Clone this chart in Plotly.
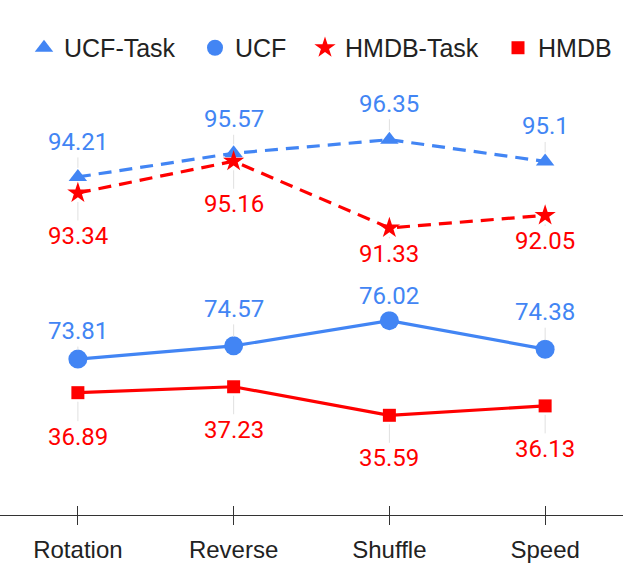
import plotly.graph_objects as go

# data
categories = ['Rotation', 'Reverse', 'Shuffle', 'Speed']
ucf_task = [94.21, 95.57, 96.35, 95.1]
ucf = [73.81, 74.57, 76.02, 74.38]
hmdb_task = [93.34, 95.16, 91.33, 92.05]
hmdb = [36.89, 37.23, 35.59, 36.13]

# label offsets from the point (px, + is down)
ucf_task_shift = [-35, -34, -36, -35]
hmdb_task_shift = [43, 43, 26, 26]
ucf_shift = [-28, -37, -25, -37]
hmdb_shift = [44, 43, 43, 43]

BLUE = '#4285F4'
RED = '#FF0000'
px_per_unit = 17.4
plot_h = 435
span = plot_h / px_per_unit

# name, values, axis, colour, dash, symbol, marker size, legend size, shifts, axis top, legend x
series = [
    ('UCF-Task', ucf_task, 'y', BLUE, '13px,8px', 'triangle-up', 16, 16, ucf_task_shift, 99.78, 24),
    ('UCF', ucf, 'y3', BLUE, 'solid', 'circle', 19, 19, ucf_shift, 89.85, 195),
    ('HMDB-Task', hmdb_task, 'y2', RED, '13px,8px', 'star', 16, 19, hmdb_task_shift, 99.83, 305),
    ('HMDB', hmdb, 'y4', RED, 'solid', 'square', 13, 13, hmdb_shift, 54.86, 498),
]

fig = go.Figure()
annotations = []
ranges = {}
legends = {}
for i, (name, vals, yax, color, dash, sym, size, lsize, shifts, hi, lx) in enumerate(series):
    fig.add_trace(go.Scatter(
        x=categories, y=vals, yaxis=yax, mode='lines+markers', showlegend=False,
        line=dict(color=color, width=3.2, dash=dash),
        marker=dict(symbol=sym, size=size, color=color, line=dict(width=0)),
        cliponaxis=False,
    ))
    ranges[yax] = [hi - span, hi]
    for c, v, s in zip(categories, vals, shifts):
        annotations.append(dict(
            x=c, y=v, xref='x', yref=yax, text=str(v), showarrow=True,
            arrowhead=0, arrowwidth=1, arrowcolor='#e0e0e0', ax=0, ay=s,
            standoff=9, font=dict(family='Roboto', size=24, color=color),
        ))
    lname = 'legend' if i == 0 else 'legend%d' % (i + 1)
    legends[lname] = dict(orientation='h', x=lx / 623, xanchor='left', y=1.0736, yanchor='middle',
                          font=dict(family='Liberation Sans, Arial', size=25, color='#222222'),
                          bgcolor='rgba(0,0,0,0)')
    # legend entry (marker only)
    fig.add_trace(go.Scatter(
        x=[None], y=[None], mode='markers', name=name, legend=lname,
        marker=dict(symbol=sym, size=lsize, color=color, line=dict(width=0)),
    ))

yaxis_common = dict(visible=False, showgrid=False, zeroline=False, fixedrange=True)

fig.update_layout(
    width=623, height=570,
    margin=dict(l=0, r=0, t=80, b=55),
    plot_bgcolor='white', paper_bgcolor='white',
    font=dict(family='Liberation Sans, Arial', size=24, color='#222222'),
    showlegend=True,
    xaxis=dict(type='category', categoryorder='array', categoryarray=categories,
               range=[-0.5, len(categories) - 0.5], showgrid=False, zeroline=False,
               showline=True, linecolor='#333333', linewidth=1.4,
               ticks='outside', ticklen=9, tickwidth=1.4, tickcolor='#333333',
               ticklabelstandoff=4, tickfont=dict(size=24, color='#222222')),
    xaxis2=dict(overlaying='x', anchor='y', side='bottom', range=[-0.5, len(categories) - 0.5],
                tickmode='array', tickvals=list(range(len(categories))), showticklabels=False,
                showgrid=False, zeroline=False, showline=False,
                ticks='inside', ticklen=9, tickwidth=1.4, tickcolor='#333333'),
    yaxis=dict(range=ranges['y'], **yaxis_common),
    yaxis2=dict(range=ranges['y2'], overlaying='y', **yaxis_common),
    yaxis3=dict(range=ranges['y3'], overlaying='y', **yaxis_common),
    yaxis4=dict(range=ranges['y4'], overlaying='y', **yaxis_common),
    annotations=annotations,
    **legends,
)

# invisible trace so xaxis2 gets drawn
fig.add_trace(go.Scatter(x=[None], y=[None], xaxis='x2', showlegend=False, hoverinfo='skip'))

fig.write_html("out.html", config={'displayModeBar': False},
               post_script="document.body.style.margin='0';")
